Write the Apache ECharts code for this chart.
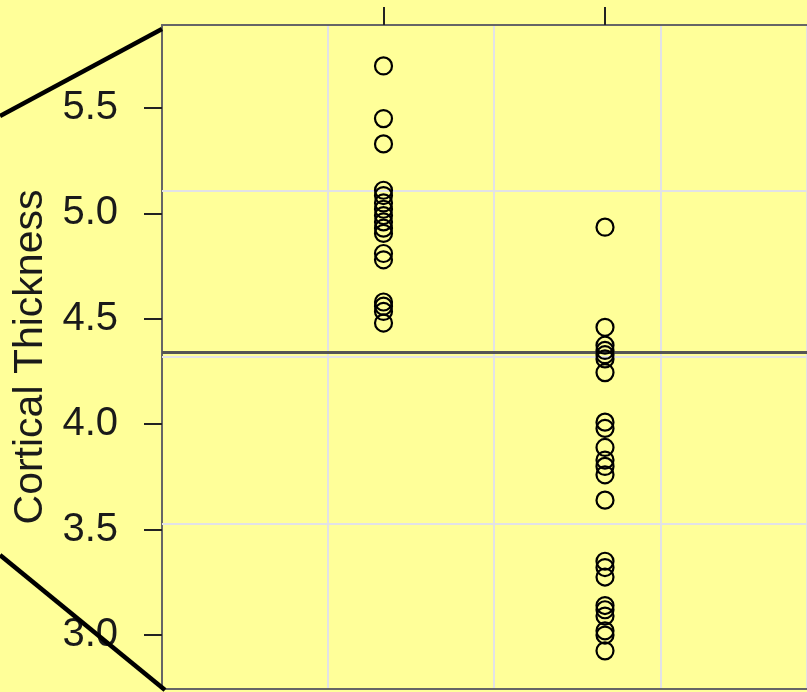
<!DOCTYPE html>
<html>
<head>
<meta charset="utf-8">
<script src="https://cdn.jsdelivr.net/npm/echarts@6/dist/echarts.min.js"></script>
<style>
  html, body { margin: 0; padding: 0; background: #ffff99; }
  #chart { width: 807px; height: 692px; }
</style>
</head>
<body>
<div id="chart"></div>
<script>
// group positions on the x scale
var groupX = [1, 2];
// cortical thickness values
var groupA = [5.70, 5.45, 5.33, 5.11, 5.085, 5.05, 5.02, 4.99, 4.96, 4.93, 4.905, 4.81, 4.78, 4.58, 4.56, 4.535, 4.48];
var groupB = [4.935, 4.46, 4.375, 4.35, 4.33, 4.31, 4.245, 4.01, 3.98, 3.89, 3.83, 3.80, 3.76, 3.64,
  3.35, 3.32, 3.275, 3.14, 3.12, 3.09, 3.02, 3.00, 2.925];
var yTicks = [3.0, 3.5, 4.0, 4.5, 5.0, 5.5];
var meanLine = 4.34;
var hGrid = [5.109, 4.318, 3.528];

var font = 'Liberation Sans, Arial, sans-serif';

function pts(x, arr) {
  return arr.map(function (v) { return [x, v]; });
}

var pointStyle = {
  type: 'scatter',
  symbol: 'circle',
  symbolSize: 17,
  itemStyle: { color: 'rgba(0,0,0,0)', borderColor: '#000', borderWidth: 2.2, opacity: 1 },
  silent: true,
  z: 5
};

var chart = echarts.init(document.getElementById('chart'));
chart.setOption({
  backgroundColor: '#ffff99',
  animation: false,
  grid: { left: 162, right: 0, top: 25, bottom: 3 },
  xAxis: [{
    type: 'value', position: 'bottom', min: 0, max: 2.912, interval: 0.75,
    axisLine: { show: true, lineStyle: { color: '#666', width: 2 } },
    axisTick: { show: false },
    axisLabel: { show: false },
    splitLine: { show: true, lineStyle: { color: '#e2e2e6', width: 2 } }
  }, {
    type: 'value', position: 'top', min: 0, max: 2.912,
    axisLine: { show: true, lineStyle: { color: '#666', width: 2 } },
    axisTick: { show: true, length: 18, customValues: groupX, lineStyle: { color: '#222', width: 2 } },
    axisLabel: { show: false },
    splitLine: { show: false }
  }],
  yAxis: {
    type: 'value', min: 2.744, max: 5.894,
    name: 'Cortical Thickness',
    nameLocation: 'middle',
    nameRotate: 90,
    nameGap: 108,
    nameTextStyle: { fontFamily: font, fontSize: 41, color: '#1a1a1a' },
    axisLine: { show: true, lineStyle: { color: '#666', width: 2 } },
    axisTick: { show: true, length: 18, customValues: yTicks, lineStyle: { color: '#222', width: 2 } },
    axisLabel: {
      customValues: yTicks, margin: 44, fontFamily: font, fontSize: 40, color: '#1a1a1a',
      formatter: function (v) { return v.toFixed(1); }
    },
    splitLine: { show: false }
  },
  series: [
    Object.assign({ data: pts(groupX[0], groupA) }, pointStyle),
    Object.assign({
      data: pts(groupX[1], groupB),
      markLine: {
        silent: true, symbol: 'none', label: { show: false },
        data: hGrid.map(function (v) {
          return { yAxis: v, lineStyle: { color: '#e2e2e6', width: 2, type: 'solid' } };
        }).concat([{ yAxis: meanLine, lineStyle: { color: '#555', width: 3, type: 'solid' } }])
      }
    }, pointStyle)
  ],
  graphic: [
    { type: 'line', shape: { x1: 0, y1: 116, x2: 162, y2: 29 }, style: { stroke: '#000', lineWidth: 4.5 }, z: 10 },
    { type: 'line', shape: { x1: 0, y1: 555, x2: 165, y2: 690 }, style: { stroke: '#000', lineWidth: 4.5 }, z: 10 }
  ]
});
</script>
</body>
</html>
